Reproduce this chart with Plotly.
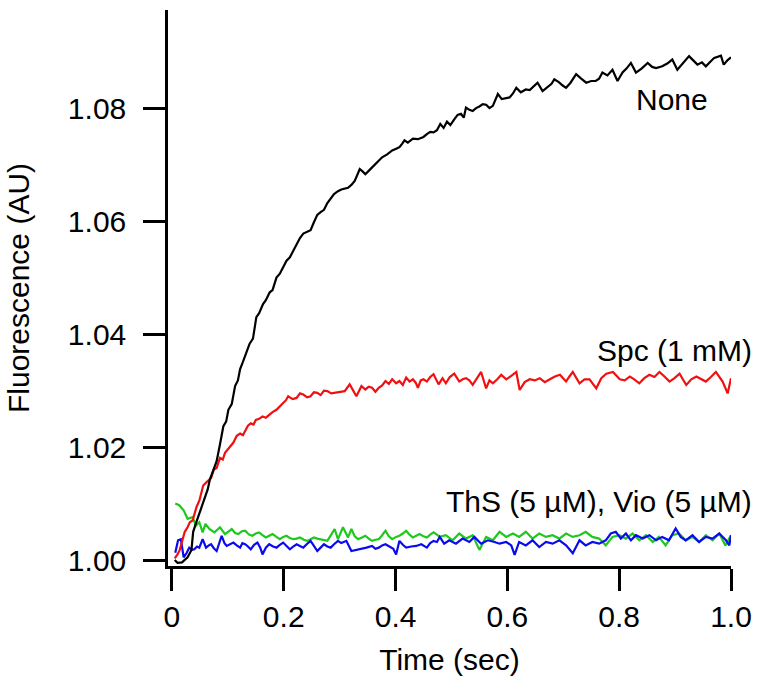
import plotly.graph_objects as go

# ---------------- data ----------------
time_none = [0.005, 0.010, 0.018, 0.028, 0.035, 0.038, 0.044, 0.050, 0.055, 0.059, 0.064, 0.068, 0.074, 0.080,
             0.086, 0.092, 0.097, 0.101, 0.107, 0.113, 0.118, 0.122, 0.127, 0.130, 0.135, 0.139, 0.145, 0.151,
             0.156, 0.163, 0.168, 0.175, 0.180, 0.187, 0.193, 0.199, 0.205, 0.211, 0.217, 0.223, 0.229, 0.235,
             0.242, 0.248, 0.254, 0.260, 0.266, 0.272, 0.278, 0.284, 0.290, 0.297, 0.303, 0.315, 0.321, 0.327,
             0.336, 0.341, 0.346, 0.355, 0.364, 0.370, 0.376, 0.385, 0.394, 0.401, 0.407, 0.412, 0.416, 0.422,
             0.431, 0.440, 0.450, 0.456, 0.462, 0.468, 0.474, 0.480, 0.486, 0.492, 0.498, 0.505, 0.511, 0.517,
             0.522, 0.526, 0.532, 0.538, 0.544, 0.550, 0.556, 0.562, 0.568, 0.574, 0.583, 0.590, 0.597, 0.604,
             0.610, 0.616, 0.624, 0.633, 0.640, 0.647, 0.654, 0.663, 0.672, 0.679, 0.684, 0.692, 0.699, 0.705,
             0.713, 0.723, 0.731, 0.741, 0.750, 0.758, 0.764, 0.770, 0.779, 0.788, 0.797, 0.806, 0.813, 0.821,
             0.830, 0.840, 0.851, 0.859, 0.866, 0.877, 0.886, 0.895, 0.904, 0.914, 0.925, 0.932, 0.940, 0.948,
             0.955, 0.963, 0.970, 0.982, 0.987, 0.994, 1.000]
fluor_none = [1.0000, 0.9995, 0.9996, 1.0005, 1.0018, 1.0050, 1.0068, 1.0085, 1.0100, 1.0108, 1.0125, 1.0143,
              1.0160, 1.0175, 1.0205, 1.0237, 1.0245, 1.0266, 1.0276, 1.0308, 1.0318, 1.0338, 1.0351, 1.0359,
              1.0372, 1.0383, 1.0392, 1.0430, 1.0437, 1.0453, 1.0460, 1.0474, 1.0478, 1.0500, 1.0507, 1.0518,
              1.0530, 1.0536, 1.0548, 1.0560, 1.0570, 1.0578, 1.0582, 1.0584, 1.0598, 1.0611, 1.0616, 1.0620,
              1.0632, 1.0641, 1.0648, 1.0653, 1.0656, 1.0659, 1.0664, 1.0671, 1.0692, 1.0688, 1.0683, 1.0692,
              1.0701, 1.0708, 1.0713, 1.0718, 1.0725, 1.0728, 1.0731, 1.0737, 1.0743, 1.0739, 1.0746, 1.0745,
              1.0749, 1.0754, 1.0758, 1.0757, 1.0761, 1.0772, 1.0765, 1.0776, 1.0770, 1.0780, 1.0788, 1.0790,
              1.0783, 1.0801, 1.0797, 1.0795, 1.0800, 1.0803, 1.0807, 1.0806, 1.0800, 1.0804, 1.0825, 1.0816,
              1.0818, 1.0819, 1.0826, 1.0836, 1.0828, 1.0833, 1.0832, 1.0838, 1.0845, 1.0830, 1.0838, 1.0843,
              1.0851, 1.0846, 1.0840, 1.0836, 1.0845, 1.0860, 1.0853, 1.0845, 1.0848, 1.0848, 1.0852, 1.0863,
              1.0858, 1.0868, 1.0848, 1.0863, 1.0870, 1.0880, 1.0863, 1.0870, 1.0880, 1.0873, 1.0871, 1.0874,
              1.0879, 1.0886, 1.0868, 1.0880, 1.0892, 1.0885, 1.0877, 1.0881, 1.0874, 1.0882, 1.0889, 1.0893,
              1.0877, 1.0885, 1.0890]

time_spc = [0.005, 0.010, 0.014, 0.019, 0.023, 0.028, 0.032, 0.037, 0.044, 0.049, 0.056, 0.062, 0.070, 0.075,
            0.080, 0.086, 0.091, 0.095, 0.102, 0.110, 0.116, 0.122, 0.127, 0.131, 0.136, 0.141, 0.146, 0.150,
            0.156, 0.162, 0.168, 0.174, 0.180, 0.187, 0.193, 0.199, 0.204, 0.208, 0.216, 0.223, 0.229, 0.235,
            0.242, 0.248, 0.254, 0.260, 0.266, 0.272, 0.278, 0.285, 0.291, 0.300, 0.309, 0.318, 0.324, 0.330,
            0.339, 0.346, 0.352, 0.358, 0.364, 0.370, 0.376, 0.382, 0.388, 0.394, 0.401, 0.407, 0.413, 0.419,
            0.425, 0.431, 0.436, 0.440, 0.445, 0.450, 0.456, 0.462, 0.468, 0.477, 0.484, 0.490, 0.497, 0.505,
            0.514, 0.520, 0.526, 0.532, 0.538, 0.545, 0.553, 0.562, 0.568, 0.574, 0.582, 0.589, 0.598, 0.607,
            0.616, 0.622, 0.631, 0.640, 0.649, 0.658, 0.667, 0.676, 0.685, 0.694, 0.705, 0.711, 0.717, 0.729,
            0.738, 0.747, 0.759, 0.768, 0.777, 0.789, 0.801, 0.810, 0.819, 0.827, 0.836, 0.845, 0.854, 0.863,
            0.872, 0.881, 0.890, 0.899, 0.908, 0.920, 0.929, 0.938, 0.947, 0.955, 0.964, 0.973, 0.985, 0.994,
            1.000]
fluor_spc = [1.0003, 1.0010, 1.0018, 1.0035, 1.0050, 1.0058, 1.0067, 1.0070, 1.0094, 1.0105, 1.0132, 1.0138,
             1.0145, 1.0160, 1.0163, 1.0181, 1.0178, 1.0190, 1.0198, 1.0208, 1.0220, 1.0224, 1.0221, 1.0230,
             1.0238, 1.0242, 1.0240, 1.0248, 1.0250, 1.0254, 1.0252, 1.0257, 1.0262, 1.0266, 1.0272, 1.0278,
             1.0283, 1.0290, 1.0285, 1.0287, 1.0295, 1.0293, 1.0288, 1.0290, 1.0297, 1.0296, 1.0292, 1.0300,
             1.0299, 1.0295, 1.0296, 1.0298, 1.0299, 1.0311, 1.0300, 1.0290, 1.0308, 1.0302, 1.0307, 1.0305,
             1.0298, 1.0305, 1.0309, 1.0317, 1.0312, 1.0320, 1.0313, 1.0317, 1.0310, 1.0323, 1.0316, 1.0320,
             1.0314, 1.0305, 1.0318, 1.0320, 1.0316, 1.0324, 1.0329, 1.0311, 1.0322, 1.0313, 1.0324, 1.0330,
             1.0316, 1.0320, 1.0322, 1.0318, 1.0310, 1.0320, 1.0333, 1.0304, 1.0318, 1.0313, 1.0320, 1.0328,
             1.0320, 1.0326, 1.0333, 1.0301, 1.0315, 1.0320, 1.0318, 1.0322, 1.0315, 1.0320, 1.0325, 1.0328,
             1.0316, 1.0325, 1.0333, 1.0313, 1.0320, 1.0320, 1.0304, 1.0322, 1.0330, 1.0333, 1.0320, 1.0318,
             1.0325, 1.0320, 1.0313, 1.0322, 1.0328, 1.0324, 1.0333, 1.0325, 1.0316, 1.0322, 1.0330, 1.0310,
             1.0320, 1.0325, 1.0320, 1.0316, 1.0324, 1.0333, 1.0316, 1.0295, 1.0322]

time_ths = [0.006, 0.013, 0.021, 0.028, 0.037, 0.043, 0.049, 0.055, 0.060, 0.067, 0.076, 0.086, 0.095, 0.101,
            0.107, 0.113, 0.119, 0.125, 0.131, 0.138, 0.144, 0.150, 0.156, 0.162, 0.168, 0.174, 0.180, 0.187,
            0.193, 0.199, 0.205, 0.211, 0.217, 0.223, 0.229, 0.236, 0.242, 0.248, 0.254, 0.260, 0.266, 0.272,
            0.278, 0.285, 0.291, 0.297, 0.306, 0.315, 0.321, 0.327, 0.333, 0.340, 0.346, 0.352, 0.358, 0.364,
            0.370, 0.376, 0.382, 0.388, 0.394, 0.401, 0.407, 0.413, 0.419, 0.425, 0.431, 0.437, 0.443, 0.450,
            0.456, 0.462, 0.468, 0.474, 0.479, 0.490, 0.502, 0.514, 0.526, 0.538, 0.550, 0.562, 0.574, 0.586,
            0.598, 0.610, 0.621, 0.633, 0.645, 0.657, 0.669, 0.681, 0.693, 0.705, 0.717, 0.729, 0.740, 0.752,
            0.764, 0.776, 0.788, 0.800, 0.812, 0.824, 0.836, 0.848, 0.860, 0.871, 0.883, 0.895, 0.907, 0.919,
            0.931, 0.943, 0.955, 0.967, 0.979, 0.990, 1.000]
fluor_ths = [1.0100, 1.0097, 1.0088, 1.0073, 1.0076, 1.0061, 1.0067, 1.0049, 1.0064, 1.0055, 1.0049, 1.0058,
             1.0046, 1.0050, 1.0055, 1.0048, 1.0046, 1.0051, 1.0052, 1.0045, 1.0043, 1.0047, 1.0049, 1.0044,
             1.0040, 1.0043, 1.0046, 1.0041, 1.0037, 1.0041, 1.0043, 1.0039, 1.0037, 1.0038, 1.0040, 1.0036,
             1.0034, 1.0037, 1.0040, 1.0038, 1.0037, 1.0035, 1.0034, 1.0045, 1.0055, 1.0037, 1.0058, 1.0040,
             1.0055, 1.0042, 1.0037, 1.0040, 1.0043, 1.0038, 1.0034, 1.0036, 1.0037, 1.0044, 1.0052, 1.0042,
             1.0037, 1.0041, 1.0043, 1.0047, 1.0052, 1.0045, 1.0040, 1.0043, 1.0046, 1.0042, 1.0040, 1.0045,
             1.0049, 1.0045, 1.0041, 1.0044, 1.0035, 1.0047, 1.0038, 1.0044, 1.0018, 1.0041, 1.0035, 1.0050,
             1.0041, 1.0047, 1.0041, 1.0050, 1.0038, 1.0047, 1.0041, 1.0044, 1.0038, 1.0047, 1.0041, 1.0044,
             1.0050, 1.0041, 1.0038, 1.0026, 1.0041, 1.0044, 1.0038, 1.0047, 1.0035, 1.0044, 1.0032, 1.0041,
             1.0026, 1.0044, 1.0047, 1.0035, 1.0041, 1.0032, 1.0044, 1.0035, 1.0047, 1.0026, 1.0044]

time_vio = [0.006, 0.011, 0.016, 0.021, 0.026, 0.031, 0.036, 0.040, 0.045, 0.049, 0.055, 0.061, 0.066, 0.070,
            0.075, 0.080, 0.089, 0.094, 0.098, 0.104, 0.110, 0.116, 0.122, 0.126, 0.131, 0.136, 0.141, 0.147,
            0.153, 0.158, 0.162, 0.168, 0.174, 0.181, 0.187, 0.193, 0.199, 0.205, 0.211, 0.217, 0.223, 0.229,
            0.235, 0.242, 0.248, 0.254, 0.260, 0.266, 0.272, 0.278, 0.284, 0.290, 0.297, 0.303, 0.312, 0.321,
            0.330, 0.339, 0.348, 0.358, 0.364, 0.370, 0.376, 0.382, 0.390, 0.396, 0.401, 0.407, 0.413, 0.419,
            0.428, 0.437, 0.446, 0.456, 0.462, 0.468, 0.474, 0.479, 0.487, 0.496, 0.508, 0.520, 0.532, 0.541,
            0.553, 0.565, 0.577, 0.586, 0.598, 0.607, 0.613, 0.621, 0.633, 0.645, 0.657, 0.669, 0.681, 0.693,
            0.705, 0.717, 0.729, 0.740, 0.752, 0.764, 0.776, 0.785, 0.794, 0.803, 0.812, 0.821, 0.830, 0.842,
            0.854, 0.866, 0.877, 0.889, 0.901, 0.910, 0.919, 0.931, 0.943, 0.955, 0.967, 0.979, 0.991, 0.997,
            1.000]
fluor_vio = [1.0013, 1.0035, 1.0037, 1.0005, 1.0012, 1.0022, 1.0018, 1.0019, 1.0024, 1.0022, 1.0037, 1.0022,
             1.0026, 1.0028, 1.0021, 1.0016, 1.0043, 1.0030, 1.0025, 1.0028, 1.0031, 1.0026, 1.0022, 1.0030,
             1.0028, 1.0024, 1.0019, 1.0027, 1.0031, 1.0022, 1.0010, 1.0022, 1.0028, 1.0024, 1.0022, 1.0027,
             1.0031, 1.0025, 1.0019, 1.0024, 1.0028, 1.0025, 1.0022, 1.0029, 1.0034, 1.0025, 1.0016, 1.0022,
             1.0028, 1.0024, 1.0022, 1.0028, 1.0034, 1.0030, 1.0034, 1.0016, 1.0018, 1.0019, 1.0022, 1.0025,
             1.0020, 1.0022, 1.0026, 1.0028, 1.0023, 1.0020, 1.0010, 1.0034, 1.0027, 1.0022, 1.0024, 1.0025,
             1.0028, 1.0022, 1.0030, 1.0034, 1.0032, 1.0041, 1.0029, 1.0035, 1.0029, 1.0038, 1.0032, 1.0041,
             1.0029, 1.0035, 1.0032, 1.0029, 1.0032, 1.0026, 1.0009, 1.0032, 1.0026, 1.0035, 1.0023, 1.0032,
             1.0029, 1.0035, 1.0026, 1.0012, 1.0035, 1.0026, 1.0032, 1.0029, 1.0035, 1.0047, 1.0050, 1.0038,
             1.0047, 1.0035, 1.0044, 1.0038, 1.0044, 1.0035, 1.0041, 1.0035, 1.0056, 1.0041, 1.0035, 1.0044,
             1.0032, 1.0041, 1.0038, 1.0047, 1.0035, 1.0026, 1.0044]

x_tick_vals = [0, 0.2, 0.4, 0.6, 0.8, 1.0]
x_tick_text = ["0", "0.2", "0.4", "0.6", "0.8", "1.0"]
y_tick_vals = [1.00, 1.02, 1.04, 1.06, 1.08]
y_tick_text = ["1.00", "1.02", "1.04", "1.06", "1.08"]

FONT = "Liberation Sans, Arial, Helvetica, sans-serif"

fig = go.Figure()
series = [
    (time_ths, fluor_ths, "#1ec81e", "ThS (5 µM)"),
    (time_vio, fluor_vio, "#0a0af0", "Vio (5 µM)"),
    (time_spc, fluor_spc, "#f01010", "Spc (1 mM)"),
    (time_none, fluor_none, "#000000", "None"),
]
for tx, fy, col, name in series:
    fig.add_trace(go.Scatter(x=tx, y=fy, mode="lines", name=name,
                             line=dict(color=col, width=2.2), showlegend=False))

label_font = dict(family=FONT, size=30, color="black")
fig.add_annotation(xref="paper", x=0.9628, y=1.0816, text="None", showarrow=False,
                   xanchor="right", yanchor="middle", font=label_font)
fig.add_annotation(xref="paper", x=1.0407, y=1.0371, text="Spc (1 mM)", showarrow=False,
                   xanchor="right", yanchor="middle", font=label_font)
fig.add_annotation(xref="paper", x=1.0407, y=1.0104, text="ThS (5 µM), Vio (5 µM)", showarrow=False,
                   xanchor="right", yanchor="middle", font=label_font)

axis_common = dict(showgrid=False, zeroline=False, showline=True, linecolor="black", linewidth=2.5,
                   ticks="outside", ticklen=22, tickwidth=2.5, tickcolor="black",
                   tickfont=dict(family=FONT, size=30, color="black"))

fig.update_xaxes(range=[-0.007, 1.0], tickvals=x_tick_vals, ticktext=x_tick_text,
                 title=dict(text="Time (sec)", font=label_font, standoff=18),
                 ticklabelstandoff=0, **axis_common)
fig.update_yaxes(range=[0.99895, 1.09737], tickvals=y_tick_vals, ticktext=y_tick_text,
                 title=dict(text="Fluorescence (AU)", font=label_font, standoff=30),
                 ticklabelstandoff=11, **axis_common)

fig.update_layout(width=762, height=682, margin=dict(l=168, r=29, t=10, b=111),
                  paper_bgcolor="white", plot_bgcolor="white",
                  font=dict(family=FONT, size=30, color="black"))

fig.write_html("out.html", config={"displayModeBar": False},
               post_script="document.body.style.margin='0';document.body.style.overflow='hidden';")
